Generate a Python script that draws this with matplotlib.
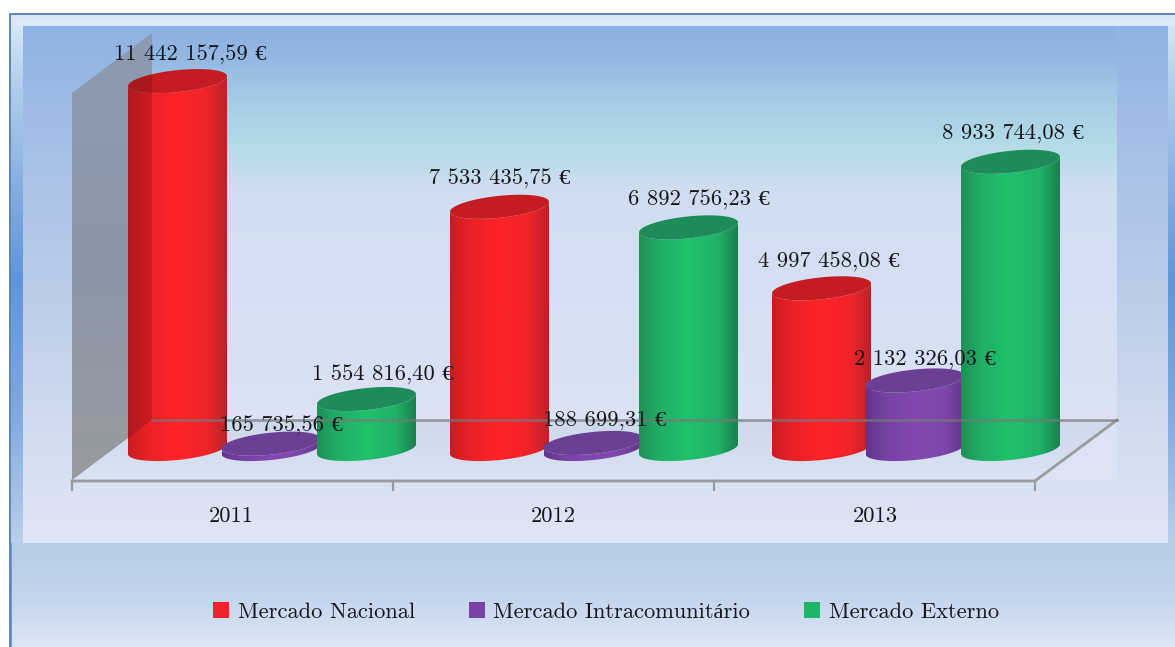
import numpy as np
import matplotlib
matplotlib.use('Agg')
import matplotlib.pyplot as plt
from matplotlib.colors import LinearSegmentedColormap
from matplotlib.patches import Patch, Polygon

# vendas por mercado
years = ['2011', '2012', '2013']
series_names = ['Mercado Nacional', 'Mercado Intracomunitário', 'Mercado Externo']
nacional = [11442157.59, 7533435.75, 4997458.08]
intracom = [165735.56, 188699.31, 2132326.03]
externo = [1554816.40, 6892756.23, 8933744.08]

W, H = 1175, 647
X0, SLOT = 271.0, 322.0      # pixel do centro do 1o grupo, largura de cada ano
Y0, PX_PER_EUR = 449.0, 32.15e-6
R, B, TILT = 49.5, 11.0, 0.1  # raio e achatamento dos cilindros

FONT = ['cmr10', 'Liberation Serif', 'DejaVu Serif']
FS = 16.2
INK = '#14171c'

# corpo: esquerda a direita; tampa
BODY_POS = [0, 0.2, 0.5, 0.8, 1]
styles = [
    {'body': ['#c91c22', '#e92126', '#ff2329', '#f02329', '#b8242a'], 'cap': '#c41c20', 'key': '#f0222c'},
    {'body': ['#62328e', '#7642a2', '#8448b0', '#7c46a8', '#5e3289'], 'cap': '#6a3f94', 'key': '#7a42a6'},
    {'body': ['#1f8f57', '#1fae66', '#21c16e', '#1fb268', '#1b7f4e'], 'cap': '#1e8c58', 'key': '#1cb56a'},
]
series_dx = [-93.5, 0.0, 95.5]

# deslocamento dos rótulos em relação ao topo do cilindro (pixels)
label_dx = [[13, 0, 7], [10, 12, 10], [16, 10, 2]]
label_dy = [[-26, -28, -26], [-18, -23, -21], [-24, -27, -29]]

plt.rcParams['axes.unicode_minus'] = False
fig = plt.figure(figsize=(W / 100, H / 100), dpi=100)
fig.patch.set_facecolor('white')

# fundo em coordenadas de pixel
bg = fig.add_axes([0, 0, 1, 1])
bg.set_xlim(0, W)
bg.set_ylim(H, 0)
bg.axis('off')


def vgrad(ax, extent, stops, **kw):
    cmap = LinearSegmentedColormap.from_list('g', stops)
    grad = np.linspace(0, 1, 256).reshape(-1, 1)
    return ax.imshow(grad, cmap=cmap, extent=extent, aspect='auto', vmin=0, vmax=1, **kw)


def hgrad(ax, extent, stops, **kw):
    cmap = LinearSegmentedColormap.from_list('g', stops)
    grad = np.linspace(0, 1, 256).reshape(1, -1)
    return ax.imshow(grad, cmap=cmap, extent=extent, aspect='auto', vmin=0, vmax=1, **kw)


# moldura exterior
edge = [(0, '#dcebf5'), (0.12, '#b4d2ee'), (0.3, '#8db2e4'), (0.5, '#5f96d9'),
        (0.75, '#7fa9e0'), (1, '#b9cfea')]
vgrad(bg, (10, 23, 543, 14), edge, zorder=1)
vgrad(bg, (1168, 1175, 543, 14), edge, zorder=1)
vgrad(bg, (10, 1175, 26, 14), ['#d7e7f3', '#dcebf5'], zorder=1)
vgrad(bg, (12, 1175, 647, 543), ['#b6cce9', '#c3d4ec', '#dde7f5'], zorder=1)
bg.fill_between([10, 12], 543, 647, color='#6b9bdb', lw=0, zorder=1)
bg.plot([10, 10, 1175], [647, 14, 14], color='#5c86b6', lw=1.4, zorder=2)

# painel do gráfico
panel = [(0, '#8cb0e2'), (0.066, '#94bae3'), (0.143, '#a5cce5'), (0.24, '#b6dde8'),
         (0.275, '#c1dcec'), (0.307, '#d0ddf0'), (0.474, '#d5dff3'), (1, '#dfe6f5')]
vgrad(bg, (23, 1168, 543, 26), panel, zorder=1)
# faixas laterais, fora da parede de fundo
side = [(0, '#8fb3e2'), (0.24, '#a6c0e7'), (0.53, '#bccdea'), (0.76, '#d0dbef'), (1, '#dfe6f5')]
vgrad(bg, (1117, 1168, 543, 26), side, zorder=1.1)
vgrad(bg, (23, 152, 543, 26), side, zorder=1.1)
vgrad(bg, (23, 1168, 543, 480), ['#d8e1f2', '#dfe6f5'], zorder=1.15)
vgrad(bg, (72, 1117, 481, 420), ['#cdd8eb', '#dae3f3'], zorder=1.2).set_clip_path(
    Polygon([(152, 420), (1117, 420), (1035, 481), (72, 481)], transform=bg.transData))

# parede lateral
wall_xy = [(72, 93), (152, 33), (152, 420), (72, 480)]
wall = vgrad(bg, (72, 152, 480, 33), ['#a2b3cd', '#a0acbf', '#aeb2ba'], zorder=1.5)
wall.set_clip_path(Polygon(wall_xy, transform=bg.transData))

# contorno do chão
LINE = '#9a9b9d'
bg.plot([1117, 1035, 72], [420, 481, 481], color=LINE, lw=2, zorder=1.6)
for xt in [72, 393, 714, 1035]:
    bg.plot([xt, xt], [481, 490], color=LINE, lw=1.6, zorder=1.6)

# eixos de dados transparentes por cima do fundo
ax = fig.add_axes([0, 0, 1, 1])
ax.patch.set_alpha(0)
ax.axis('off')


def px_x(dx):
    return dx / SLOT


def px_y(dy):
    return -dy / PX_PER_EUR


def rim(xc, y, a, b):
    # meia elipse inclinada entre os ângulos a e b
    t = np.linspace(a, b, 80)
    xs = xc + px_x(R * np.cos(t))
    ys = y + px_y(-(B * np.sin(t) + TILT * R * np.cos(t)))
    return np.column_stack([xs, ys])


def cylinder(xc, value, style, z):
    outline = np.vstack([rim(xc, 0, np.pi, 2 * np.pi), rim(xc, value, 2 * np.pi, np.pi)])
    im = hgrad(ax, (xc - px_x(R), xc + px_x(R), px_y(18), value + px_y(-18)),
               list(zip(BODY_POS, style['body'])), zorder=z)
    im.set_clip_path(Polygon(outline, transform=ax.transData))
    ax.fill(*rim(xc, value, 0, 2 * np.pi).T, color=style['cap'], lw=0, zorder=z + 0.1)


all_series = [nacional, intracom, externo]
for s, values in enumerate(all_series):
    for i, value in enumerate(values):
        cylinder(i + px_x(series_dx[s]), value, styles[s], 3 + s)

ax.set_xlim((0 - X0) / SLOT, (W - X0) / SLOT)
ax.set_ylim((Y0 - H) / PX_PER_EUR, Y0 / PX_PER_EUR)

# a parede e a linha de fundo ficam ligeiramente visíveis através dos cilindros
bg2 = fig.add_axes([0, 0, 1, 1])
bg2.patch.set_alpha(0)
bg2.axis('off')
bg2.set_xlim(0, W)
bg2.set_ylim(H, 0)
bg2.add_patch(Polygon(wall_xy, closed=True, facecolor='black', alpha=0.13, lw=0, zorder=1))
bg2.plot([152, 1117], [420, 420], color='#77797c', lw=1.9, alpha=0.7, zorder=2)


def euros(v):
    return f'{v:,.2f}'.replace(',', ' ').replace('.', ',') + ' €'


# rótulos de valor
lab = fig.add_axes([0, 0, 1, 1], sharex=ax, sharey=ax)
lab.patch.set_alpha(0)
lab.axis('off')
for s, values in enumerate(all_series):
    for i, value in enumerate(values):
        lab.annotate(euros(value), (i + px_x(series_dx[s]), value),
                     xytext=(label_dx[s][i] * 0.72, -label_dy[s][i] * 0.72), textcoords='offset points',
                     ha='center', va='center', fontsize=FS, family=FONT, color=INK)

for i, year in enumerate(years):
    lab.annotate(year, (i + px_x(-40), 0), xytext=(0, -67.5 * 0.72), textcoords='offset points',
                 ha='center', va='center', fontsize=FS, family=FONT, color=INK)

handles = [Patch(facecolor=st['key'], edgecolor='none', label=name) for st, name in zip(styles, series_names)]
lab.legend(handles=handles, loc='center', bbox_to_anchor=(606 / W, 1 - 612 / H),
           bbox_transform=fig.transFigure, ncol=3, frameon=False,
           prop={'family': FONT, 'size': FS}, labelcolor=INK,
           handlelength=0.72, handleheight=0.72, handletextpad=0.37, columnspacing=2.4)

fig.savefig('out.png', dpi=100)
